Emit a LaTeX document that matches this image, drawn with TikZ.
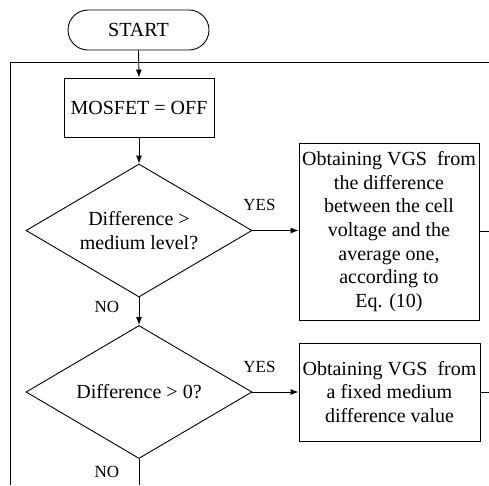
\documentclass[tikz,border=0pt]{standalone}
\usepackage{fontspec}
\setmainfont{Liberation Serif}
\usetikzlibrary{shapes.geometric,arrows.meta}
\tikzset{
  base/.style={draw, line width=0.9pt, inner sep=0pt, align=center, font=\fontsize{20}{23.6}\selectfont},
  term/.style={base, rounded corners=20pt, minimum width=141pt, minimum height=40pt},
  proc/.style={base, rectangle},
  dec/.style={base, diamond, aspect=1.7, minimum width=226pt, minimum height=133pt},
  lbl/.style={font=\fontsize{17}{20}\selectfont, inner sep=0pt},
  conn/.style={line width=0.9pt},
  arr/.style={conn, -{Latex[length=8pt,width=6pt]}}
}
\begin{document}
\begin{tikzpicture}[x=1pt,y=-1pt]
\useasboundingbox (0,0) rectangle (489,485);
\node[term] (start) at (138.5,30) {START};
\node[proc, minimum width=150pt, minimum height=59pt] (mos) at (139,107.5) {MOSFET = OFF};
\node[dec] (d1) at (139,230.5) {Difference >\\medium level?};
\node[proc, minimum width=180pt, minimum height=177pt] (b2) at (389,231.5) {Obtaining VGS\ \ from\\the difference\\between the cell\\voltage and the\\average one,\\according to\\Eq. (10)};
\node[dec] (d2) at (139,392) {Difference > 0?};
\node[proc, minimum width=181pt, minimum height=98pt] (b3) at (389.5,392) {Obtaining VGS\ \ from\\a fixed medium\\difference value};
\node[lbl] (yes1) at (259.5,205) {YES};
\node[lbl] (no1) at (107,307) {NO};
\node[lbl] (yes2) at (259.5,367) {YES};
\node[lbl] (no2) at (107,472) {NO};
\coordinate (tl) at (10,62.7);
\coordinate (bl) at (10,485);
\coordinate (tr) at (489,62.7);
\coordinate (r1) at (489,231.5);
\coordinate (r2) at (489,392);
\coordinate (bot) at (139,485);
\draw[conn] (bl) -- (tl) -- (tr);
\draw[arr] (start.south) -- (mos.north);
\draw[arr] (mos.south) -- (d1.north);
\draw[arr] (d1.east) -- (d1.east -| b2.west);
\draw[arr] (d1.south) -- (d2.north);
\draw[arr] (d2.east) -- (b3.west);
\draw[conn] (b2.east) -- (r1);
\draw[conn] (b3.east) -- (r2);
\draw[conn] (d2.south) -- (bot);
\end{tikzpicture}
\end{document}
